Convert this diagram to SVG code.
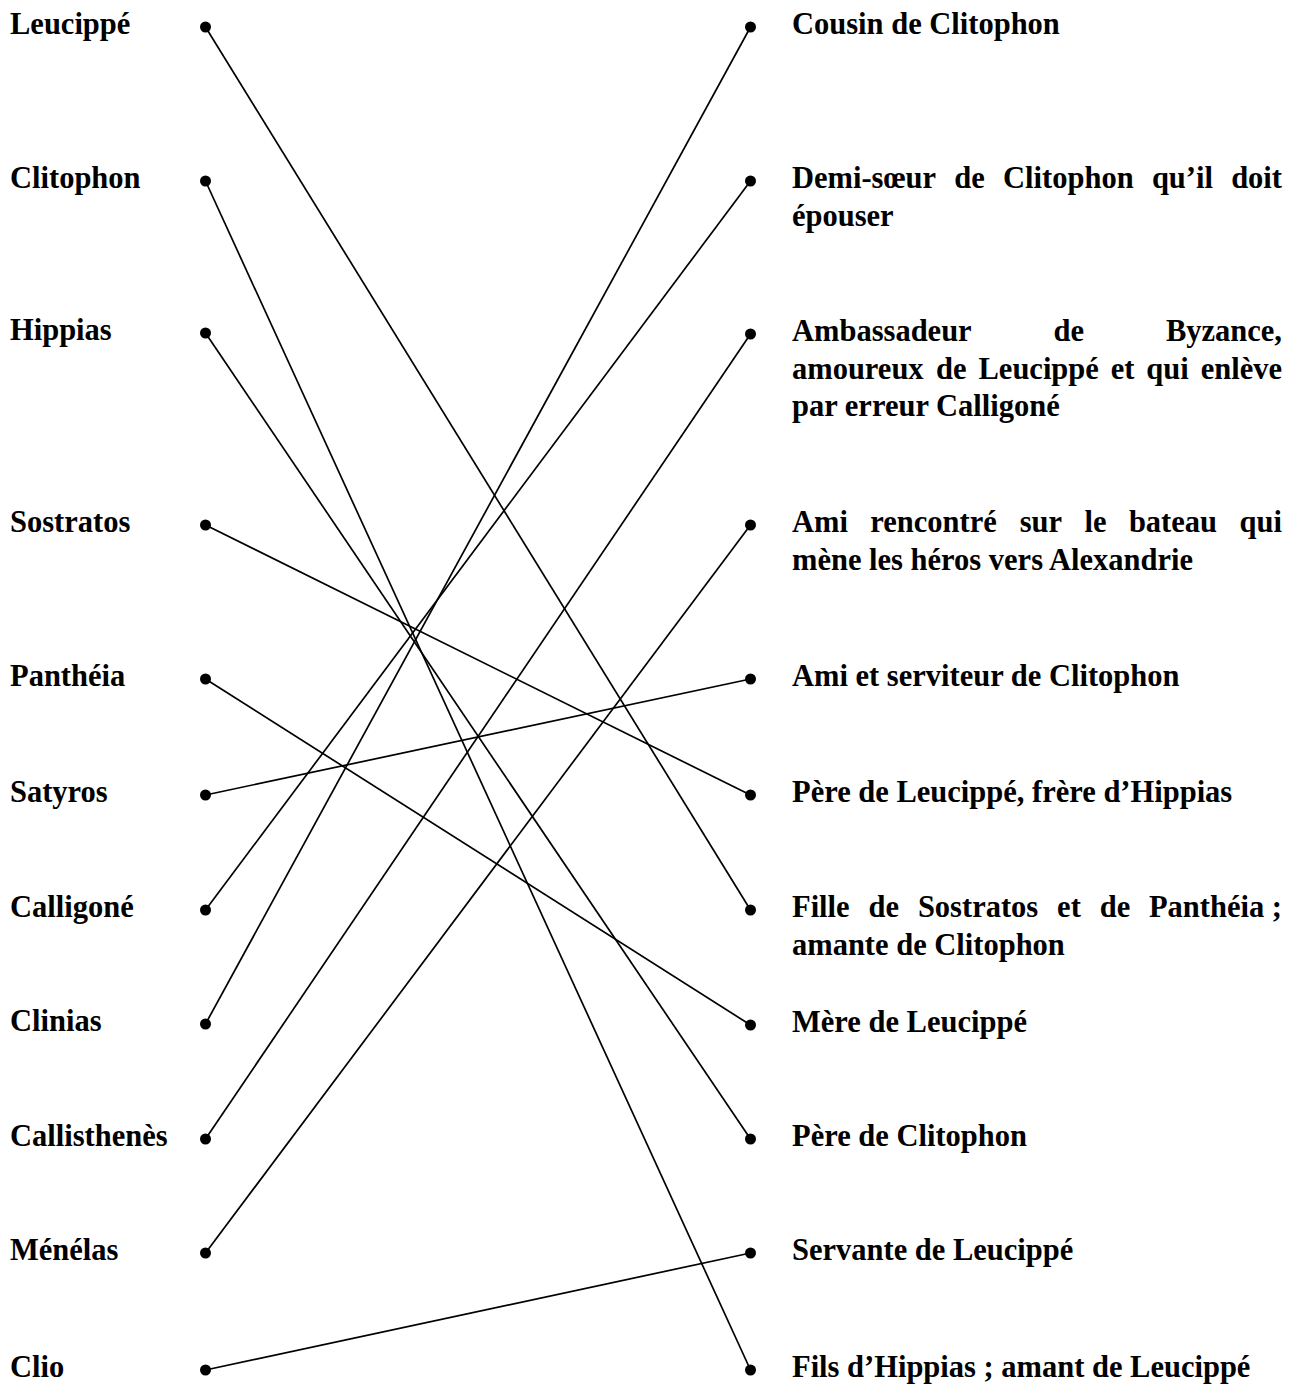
<svg xmlns="http://www.w3.org/2000/svg" width="1299" height="1392" viewBox="0 0 1299 1392">
<style>
text{font-family:"Liberation Serif","Times New Roman",serif;font-weight:bold;font-size:30.5px;fill:#000}
.e{text-anchor:end}
line{stroke:#000;stroke-width:1.7}
circle{fill:#000}
</style>
<rect width="1299" height="1392" fill="#fff"/>
<g id="connectors">
<line x1="205.5" y1="27" x2="750.5" y2="910"/>
<line x1="205.5" y1="181" x2="750.5" y2="1370"/>
<line x1="205.5" y1="333" x2="750.5" y2="1139"/>
<line x1="205.5" y1="525" x2="750.5" y2="795"/>
<line x1="205.5" y1="679" x2="750.5" y2="1025"/>
<line x1="205.5" y1="795" x2="750.5" y2="679"/>
<line x1="205.5" y1="910" x2="750.5" y2="181"/>
<line x1="205.5" y1="1024" x2="750.5" y2="27"/>
<line x1="205.5" y1="1139" x2="750.5" y2="334"/>
<line x1="205.5" y1="1253" x2="750.5" y2="525"/>
<line x1="205.5" y1="1370" x2="750.5" y2="1253"/>
</g>
<g id="l1"><text x="10" y="34">Leucippé</text><circle cx="205.5" cy="27" r="5.5"/></g>
<g id="l2"><text x="10" y="188">Clitophon</text><circle cx="205.5" cy="181" r="5.5"/></g>
<g id="l3"><text x="10" y="340">Hippias</text><circle cx="205.5" cy="333" r="5.5"/></g>
<g id="l4"><text x="10" y="532">Sostratos</text><circle cx="205.5" cy="525" r="5.5"/></g>
<g id="l5"><text x="10" y="686">Panthéia</text><circle cx="205.5" cy="679" r="5.5"/></g>
<g id="l6"><text x="10" y="802">Satyros</text><circle cx="205.5" cy="795" r="5.5"/></g>
<g id="l7"><text x="10" y="917">Calligoné</text><circle cx="205.5" cy="910" r="5.5"/></g>
<g id="l8"><text x="10" y="1031">Clinias</text><circle cx="205.5" cy="1024" r="5.5"/></g>
<g id="l9"><text x="10" y="1146">Callisthenès</text><circle cx="205.5" cy="1139" r="5.5"/></g>
<g id="l10"><text x="10" y="1260">Ménélas</text><circle cx="205.5" cy="1253" r="5.5"/></g>
<g id="l11"><text x="10" y="1377">Clio</text><circle cx="205.5" cy="1370" r="5.5"/></g>

<g id="r1"><circle cx="750.5" cy="27" r="5.5"/><text x="792" y="34">Cousin de Clitophon</text></g>
<g id="r2"><circle cx="750.5" cy="181" r="5.5"/>
<text y="188"><tspan x="792">Demi-sœur</tspan> <tspan x="954.3">de</tspan> <tspan x="1003.1">Clitophon</tspan> <tspan x="1151.9">qu’il</tspan> <tspan x="1282" class="e">doit</tspan></text>
<text x="792" y="225.5">épouser</text></g>
<g id="r3"><circle cx="750.5" cy="334" r="5.5"/>
<text y="341"><tspan x="792">Ambassadeur</tspan> <tspan x="1053.5">de</tspan> <tspan x="1282" class="e">Byzance,</tspan></text>
<text y="378.5"><tspan x="792">amoureux</tspan> <tspan x="936.1">de</tspan> <tspan x="978.5">Leucippé</tspan> <tspan x="1110.7">et</tspan> <tspan x="1146.3">qui</tspan> <tspan x="1282" class="e">enlève</tspan></text>
<text x="792" y="416">par erreur Calligoné</text></g>
<g id="r4"><circle cx="750.5" cy="525" r="5.5"/>
<text y="532"><tspan x="792">Ami</tspan> <tspan x="870.3">rencontré</tspan> <tspan x="1019.7">sur</tspan> <tspan x="1084.5">le</tspan> <tspan x="1128.9">bateau</tspan> <tspan x="1282" class="e">qui</tspan></text>
<text x="792" y="569.5">mène les héros vers Alexandrie</text></g>
<g id="r5"><circle cx="750.5" cy="679" r="5.5"/><text x="792" y="686">Ami et serviteur de Clitophon</text></g>
<g id="r6"><circle cx="750.5" cy="795" r="5.5"/><text x="792" y="802">Père de Leucippé, frère d’Hippias</text></g>
<g id="r7"><circle cx="750.5" cy="910" r="5.5"/>
<text y="917"><tspan x="792">Fille</tspan> <tspan x="868.5">de</tspan> <tspan x="917.9">Sostratos</tspan> <tspan x="1057.1">et</tspan> <tspan x="1099.7">de</tspan> <tspan x="1282" class="e">Panthéia ;</tspan></text>
<text x="792" y="954.5">amante de Clitophon</text></g>
<g id="r8"><circle cx="750.5" cy="1025" r="5.5"/><text x="792" y="1032">Mère de Leucippé</text></g>
<g id="r9"><circle cx="750.5" cy="1139" r="5.5"/><text x="792" y="1146">Père de Clitophon</text></g>
<g id="r10"><circle cx="750.5" cy="1253" r="5.5"/><text x="792" y="1260">Servante de Leucippé</text></g>
<g id="r11"><circle cx="750.5" cy="1370" r="5.5"/><text x="792" y="1377">Fils d’Hippias ; amant de Leucippé</text></g>
</svg>
